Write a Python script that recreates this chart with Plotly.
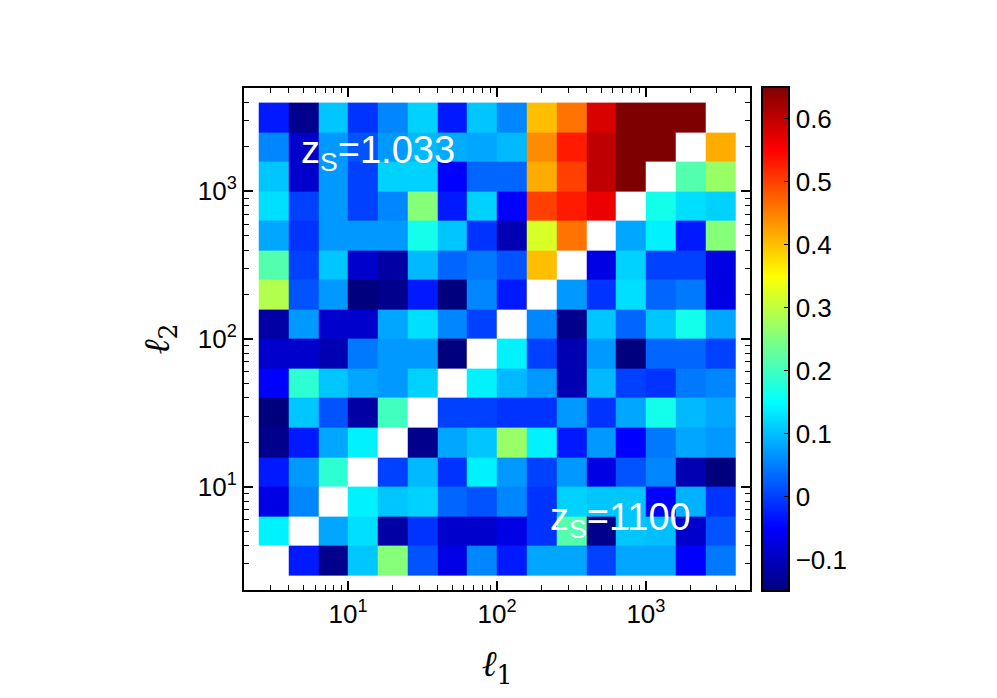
import plotly.graph_objects as go

# multipole bin edges (log-spaced bands in ell)
ell_edges = [2.512, 3.981, 6.310, 10.0, 15.85, 25.12, 39.81, 63.10, 100.0,
             158.5, 251.2, 398.1, 631.0, 1000.0, 1585.0, 2512.0, 3981.0]

N = None  # diagonal (not shown)
# correlation values, rows listed from top (highest ell_2) to bottom (lowest ell_2)
rows_top_to_bottom = [
    [-0.03, -0.14, 0.105, -0.01, 0.055, 0.115, -0.03, 0.105, 0.055, 0.40, 0.46, 0.58, 0.70, 0.70, 0.70, N],
    [0.055, -0.09, 0.07, 0.015, 0.07, 0.095, 0.085, 0.08, 0.095, 0.44, 0.53, 0.60, 0.70, 0.70, N, 0.415],
    [0.105, -0.09, 0.07, 0.0, 0.115, 0.115, -0.05, 0.03, 0.03, 0.415, 0.50, 0.60, 0.70, N, 0.215, 0.27],
    [0.125, 0.0, 0.07, 0.0, 0.055, 0.255, -0.03, 0.115, -0.05, 0.50, 0.53, 0.565, N, 0.165, 0.125, 0.115],
    [0.08, -0.01, 0.07, 0.07, 0.07, 0.165, 0.105, -0.01, -0.11, 0.32, 0.46, N, 0.08, 0.14, -0.03, 0.255],
    [0.215, 0.0, 0.105, -0.09, -0.12, 0.095, 0.03, 0.045, 0.015, 0.40, N, -0.07, 0.115, 0.0, 0.0, -0.07],
    [0.29, 0.015, 0.07, -0.15, -0.14, -0.03, -0.15, 0.055, -0.03, N, 0.07, -0.01, 0.125, 0.03, 0.045, -0.07],
    [-0.12, 0.07, -0.09, -0.09, 0.08, 0.125, 0.055, 0.0, N, 0.055, -0.14, 0.105, 0.03, 0.105, 0.165, 0.08],
    [-0.09, -0.09, -0.11, 0.045, 0.07, 0.07, -0.15, N, 0.14, 0.0, -0.11, 0.07, -0.15, 0.03, 0.03, 0.0],
    [-0.05, 0.185, 0.105, 0.08, 0.07, 0.115, N, 0.14, 0.095, 0.07, -0.11, 0.095, 0.0, -0.01, 0.045, 0.055],
    [-0.15, 0.105, 0.015, -0.12, 0.20, N, 0.0, 0.0, -0.01, -0.01, 0.07, -0.01, 0.08, 0.165, 0.095, 0.08],
    [-0.14, -0.03, 0.08, 0.14, N, -0.14, 0.08, 0.105, 0.27, 0.14, -0.03, 0.07, -0.05, 0.045, 0.08, 0.07],
    [-0.03, 0.07, 0.185, N, 0.0, 0.095, -0.01, 0.14, 0.07, 0.0, 0.07, -0.07, 0.015, 0.055, -0.11, -0.15],
    [-0.07, 0.055, N, 0.14, 0.105, 0.115, 0.03, 0.015, 0.055, -0.01, 0.115, 0.105, 0.105, -0.05, 0.09, -0.01],
    [0.14, N, 0.08, 0.125, -0.12, -0.01, -0.09, -0.09, -0.07, -0.01, 0.215, -0.14, 0.105, 0.10, -0.09, 0.015],
    [N, -0.03, -0.14, 0.105, 0.255, 0.015, -0.07, 0.055, -0.03, 0.08, 0.08, 0.0, 0.08, 0.08, -0.05, 0.045],
]
z_values = rows_top_to_bottom[::-1]

axis_tickvals = [10, 100, 1000]
axis_ticktext = ["10<sup>1</sup>", "10<sup>2</sup>", "10<sup>3</sup>"]
cbar_tickvals = [-0.1, 0.0, 0.1, 0.2, 0.3, 0.4, 0.5, 0.6]
z_range = [-0.15, 0.65]
label_top = "z<sub>S</sub>=1.033"
label_bottom = "z<sub>S</sub>=1100"

jet = [[0.0, "#00007f"], [0.125, "#0000ff"], [0.375, "#00ffff"],
       [0.625, "#ffff00"], [0.875, "#ff0000"], [1.0, "#7f0000"]]

fig = go.Figure(go.Heatmap(
    x=ell_edges, y=ell_edges, z=z_values,
    colorscale=jet, zmin=z_range[0], zmax=z_range[1],
    hoverongaps=False,
    colorbar=dict(
        x=1.024, xanchor="left", xref="paper",
        y=0.5, yanchor="middle", len=504, lenmode="pixels",
        thickness=27, thicknessmode="pixels",
        outlinecolor="black", outlinewidth=2,
        tickvals=cbar_tickvals, ticks="inside", ticklen=6, tickcolor="black",
        tickfont=dict(family="Liberation Sans", size=26, color="black"),
        ypad=0, xpad=0,
    ),
))

tick_font = dict(family="Liberation Sans", size=26, color="black")
title_font = dict(family="DejaVu Serif", size=36, color="black")

common_axis = dict(
    type="log", showgrid=False, zeroline=False, automargin=False,
    showline=True, linecolor="black", linewidth=2, mirror="ticks",
    ticks="inside", ticklen=9, tickwidth=1.5, tickcolor="black",
    tickmode="array", tickvals=axis_tickvals, ticktext=axis_ticktext,
    tickfont=tick_font,
    minor=dict(ticks="inside", ticklen=5, tickwidth=1.2, tickcolor="black",
               dtick="D1", showgrid=False),
)

fig.update_xaxes(range=[0.30103, 3.69897],
                 title=dict(text="<i>ℓ</i><sub>1</sub>", font=title_font, standoff=23),
                 **common_axis)
fig.update_yaxes(range=[0.30103, 3.69897],
                 title=dict(text="<i>ℓ</i><sub>2</sub>", font=title_font, standoff=17),
                 **common_axis)

fig.add_annotation(xref="paper", yref="paper", x=0.108, y=0.870, xanchor="left", yanchor="middle",
                   text=label_top, showarrow=False,
                   font=dict(family="Liberation Sans", size=38, color="white"))
fig.add_annotation(xref="paper", yref="paper", x=0.6, y=0.140, xanchor="left", yanchor="middle",
                   text=label_bottom, showarrow=False,
                   font=dict(family="Liberation Sans", size=38, color="white"))

# the page body adds an 8px offset, so the figure is drawn 8px smaller with 8px less left/top margin
fig.update_layout(
    width=989, height=690, autosize=False,
    margin=dict(l=236, r=247, t=80, b=108),
    plot_bgcolor="white", paper_bgcolor="white",
)

fig.write_html("out.html")
